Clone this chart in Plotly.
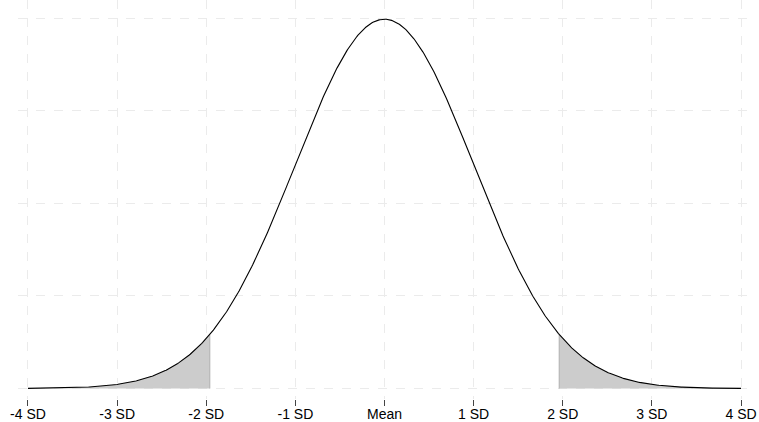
import math
import plotly.graph_objects as go

# Standard normal distribution parameters
mean = 0.0
sd = 1.0
cutoff = 1.96  # shaded tails beyond +/- 1.96 SD

tick_values = [-4, -3, -2, -1, 0, 1, 2, 3, 4]
tick_labels = ["-4 SD", "-3 SD", "-2 SD", "-1 SD", "Mean", "1 SD", "2 SD", "3 SD", "4 SD"]
y_grid = [0, 0.1, 0.2, 0.3, 0.4]


def pdf(x):
    z = (x - mean) / sd
    return math.exp(-0.5 * z * z) / (sd * math.sqrt(2 * math.pi))


n = 801
xs = [-4 + 8 * i / (n - 1) for i in range(n)]
ys = [pdf(x) for x in xs]

left_x = [x for x in xs if x <= -cutoff] + [-cutoff]
right_x = [cutoff] + [x for x in xs if x >= cutoff]

fig = go.Figure()
for tx in (left_x, right_x):
    fig.add_trace(go.Scatter(
        x=tx, y=[pdf(x) for x in tx], mode="lines",
        line=dict(width=0), fill="tozeroy", fillcolor="#cccccc",
        hoverinfo="skip", showlegend=False))
# edges of shaded area
for c in (-cutoff, cutoff):
    fig.add_trace(go.Scatter(x=[c, c], y=[0, pdf(c)], mode="lines",
                             line=dict(color="#b0b0b0", width=1),
                             hoverinfo="skip", showlegend=False))

fig.add_trace(go.Scatter(x=xs, y=ys, mode="lines",
                         line=dict(color="black", width=1.1),
                         showlegend=False))

fig.update_layout(
    width=759, height=422,
    margin=dict(l=18, r=8, t=0, b=23),
    paper_bgcolor="white", plot_bgcolor="white",
    font=dict(family="Liberation Sans, Arial, sans-serif", size=14, color="black"),
    xaxis=dict(range=[-4.112, 4.112], tickvals=tick_values, ticktext=tick_labels,
               showgrid=True, gridcolor="#ebebeb", griddash="dash", gridwidth=1,
               zeroline=False, showline=False, automargin=False,
               ticks="outside", ticklen=6, tickcolor="#444444", tickwidth=1,
               ticklabelstandoff=-4,
               tickfont=dict(size=14, color="black")),
    yaxis=dict(range=[-0.0113, 0.4197], tickvals=y_grid, showticklabels=False,
               showgrid=True, gridcolor="#ebebeb", griddash="dash", gridwidth=1,
               zeroline=False, showline=False, ticks="", automargin=False),
)

fig.write_html("out.html", config={"displayModeBar": False},
               post_script="document.body.style.margin='0';")
